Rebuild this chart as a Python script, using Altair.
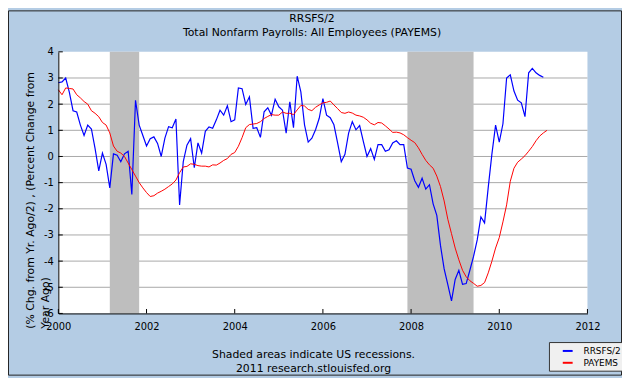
import altair as alt
import pandas as pd

# ---- data (monthly, Jan 2000 onward) ----
rrsfs_half = [2.82, 2.85, 3.0, 2.45, 1.75, 1.70, 1.2, 0.8, 1.2, 1.05, 0.3, -0.55,
              0.13, -0.3, -1.2, 0.1, 0.05, -0.2, 0.1, 0.2, -1.45, 2.15, 1.2, 0.8,
              0.4, 0.68, 0.75, 0.5, 0.0, 0.7, 1.14, 1.1, 1.43, -1.85, -0.2, 0.43,
              0.68, -0.43, 0.52, 0.13, 0.96, 1.13, 1.08, 1.40, 1.77, 1.58, 1.94, 1.33,
              1.40, 2.62, 2.59, 1.99, 2.28, 1.08, 1.1, 0.73, 1.71, 1.86, 1.58, 2.19,
              1.9, 1.77, 0.89, 2.09, 1.1, 3.07, 2.47, 1.21, 0.55, 0.70, 1.02, 1.46,
              2.21, 1.58, 1.48, 1.21, 0.52, -0.2, 0.08, 0.89, 1.33, 1.02, 1.18, 0.58,
              0.0, 0.3, -0.11, 0.45, 0.45, 0.2, 0.26, 0.52, 0.6, 0.45, 0.45, -0.44,
              -0.49, -0.93, -1.18, -0.83, -1.25, -1.08, -1.81, -2.25, -3.4, -4.3, -4.9, -5.52,
              -4.70, -4.35, -4.89, -4.86, -4.35, -3.82, -3.19, -2.31, -2.54, -1.18, 0.1, 1.2,
              0.55, 1.25, 3.0, 3.12, 2.5, 2.15, 2.05, 1.52, 3.2, 3.37, 3.2, 3.1,
              3.03]

payems = [2.55, 2.36, 2.62, 2.60, 2.58, 2.36, 2.24, 2.10, 2.0, 1.75, 1.65, 1.52,
          1.3, 1.2, 0.9, 0.40, 0.2, 0.13, 0.0, -0.25, -0.5, -0.75, -1.0, -1.2,
          -1.38, -1.53, -1.5, -1.4, -1.33, -1.25, -1.15, -1.05, -0.9, -0.62, -0.4, -0.38,
          -0.28, -0.3, -0.35, -0.37, -0.37, -0.4, -0.32, -0.33, -0.25, -0.15, -0.08, 0.08,
          0.15, 0.39, 0.72, 1.1, 1.22, 1.24, 1.26, 1.33, 1.45, 1.53, 1.6, 1.58,
          1.58, 1.7, 1.65, 1.65, 1.6, 1.78, 1.95, 1.93, 1.8, 1.75, 1.88, 1.97,
          2.05, 2.07, 2.12, 1.97, 1.83, 1.68, 1.65, 1.7, 1.66, 1.58, 1.55, 1.5,
          1.4, 1.27, 1.21, 1.3, 1.28, 1.17, 1.05, 0.92, 0.93, 0.9, 0.83, 0.72,
          0.62, 0.53, 0.33, 0.08, -0.15, -0.32, -0.45, -0.75, -1.15, -1.7, -2.4, -2.95,
          -3.5, -3.95, -4.35, -4.6, -4.75, -4.85, -4.96, -4.93, -4.82, -4.45, -4.0, -3.5,
          -3.1, -2.5, -1.85, -0.95, -0.45, -0.22, -0.1, 0.03, 0.2, 0.38, 0.6, 0.78,
          0.9, 1.0]

series_names = ["RRSFS/2", "PAYEMS"]
series_colors = ["#0000FF", "#FF0000"]
rec_start = [2001.167, 2007.917]
rec_end = [2001.833, 2009.417]
x_ticks = [2000, 2002, 2004, 2006, 2008, 2010, 2012]
y_ticks = [-6, -5, -4, -3, -2, -1, 0, 1, 2, 3, 4]
grid_vals = [-5, -4, -3, -2, -1, 0, 1, 2, 3]
title_lines = ["RRSFS/2", "Total Nonfarm Payrolls: All Employees (PAYEMS)"]
y_title = ["(% Chg. from Yr. Ago/2) , (Percent Change from", "Year Ago)"]
footer = ["Shaded areas indicate US recessions.", "2011 research.stlouisfed.org"]

blue_df = pd.DataFrame({"t": [2000 + i / 12 for i in range(len(rrsfs_half))],
                        "v": rrsfs_half, "s": series_names[0]})
red_df = pd.DataFrame({"t": [2000 + i / 12 for i in range(len(payems))],
                       "v": payems, "s": series_names[1]})
rec_df = pd.DataFrame({"t": rec_start, "t2": rec_end})
grid_df = pd.DataFrame({"v": grid_vals})
xt_df = pd.DataFrame({"t": x_ticks})
yt_df = pd.DataFrame({"v": y_ticks})
one = pd.DataFrame({"a": [0]})

W, H = 536, 265
FONT = "DejaVu Sans"

xs = alt.Scale(domain=[2000, 2012], nice=False, zero=False)
ys = alt.Scale(domain=[-6, 4], nice=False, zero=False)

x_axis = alt.Axis(values=x_ticks, format="d", tickSize=0, labelPadding=8,
                  labelFontSize=10, labelFont=FONT, labelColor="black",
                  labelFlush=False, labelOverlap=False,
                  domainColor="black", domainWidth=1, grid=False,
                  title=footer, titleFont=FONT, titleFontSize=11,
                  titleFontWeight="normal", titleColor="black",
                  titleX=258, titleY=36, titleAlign="center",
                  titleBaseline="top", titleLineHeight=14, zindex=1)
y_axis = alt.Axis(values=y_ticks, tickSize=0, labelPadding=5,
                  labelFontSize=10, labelFont=FONT, labelColor="black",
                  labelExpr="datum.value + ''", labelOverlap=False,
                  domainColor="black", domainWidth=1, grid=False,
                  title=y_title, titleFont=FONT, titleFontSize=11,
                  titleFontWeight="normal", titleColor="black",
                  titleAngle=270, titleAlign="left", titleBaseline="top",
                  titleX=-34, titleY=280, titleLineHeight=15, zindex=1)

X = alt.X("t:Q", scale=xs, axis=x_axis)
Y = alt.Y("v:Q", scale=ys, axis=y_axis)

color = alt.Color("s:N", scale=alt.Scale(domain=series_names, range=series_colors),
                  legend=alt.Legend(orient="none", legendX=497, legendY=294,
                                    title=None, symbolType="stroke",
                                    symbolStrokeWidth=2, symbolSize=100,
                                    labelFontSize=9, labelFont=FONT,
                                    labelColor="black", padding=3,
                                    strokeColor="#333333", fillColor="#F0F0F0",
                                    rowPadding=1, labelOffset=10, symbolOffset=10))

grid = alt.Chart(grid_df).mark_rule(color="#A8A8A8", strokeWidth=1).encode(y=Y)
rec = alt.Chart(rec_df).mark_rect(color="#BEBEBE").encode(x=X, x2="t2:Q")
blue = alt.Chart(blue_df).mark_line(strokeWidth=1.2).encode(x=X, y=Y, color=color)
red = alt.Chart(red_df).mark_line(strokeWidth=1.0).encode(x=X, y=Y, color=color)
xticks = alt.Chart(xt_df).mark_rule(color="black").encode(
    x=X, y=alt.value(H), y2=alt.value(H - 4.5))
yticks = alt.Chart(yt_df).mark_rule(color="black").encode(
    y=Y, x=alt.value(0), x2=alt.value(4.5))
frame = alt.Chart(one).mark_rect(
    fill="transparent", stroke="#222222", strokeWidth=1).encode(
    x=alt.value(-50.5), x2=alt.value(570.5), y=alt.value(-41.5), y2=alt.value(327.5))
title1 = alt.Chart(one).mark_text(font=FONT, fontSize=11, color="black",
                                  align="center", baseline="middle").encode(
    x=alt.value(257), y=alt.value(-33), text=alt.value(title_lines[0]))
title2 = alt.Chart(one).mark_text(font=FONT, fontSize=11, color="black",
                                  align="center", baseline="middle").encode(
    x=alt.value(257), y=alt.value(-19), text=alt.value(title_lines[1]))

chart = alt.layer(grid, rec, blue, red, xticks, yticks, frame, title1, title2).properties(
    width=W, height=H,
    autosize=alt.AutoSizeParams(type="none"),
    padding={"left": 51, "top": 42, "right": 35, "bottom": 63},
    background="#B4CCE4",
).configure_view(fill="white", stroke="transparent", strokeWidth=0)

chart.save("out.html", embed_options={"renderer": "svg", "actions": False})
